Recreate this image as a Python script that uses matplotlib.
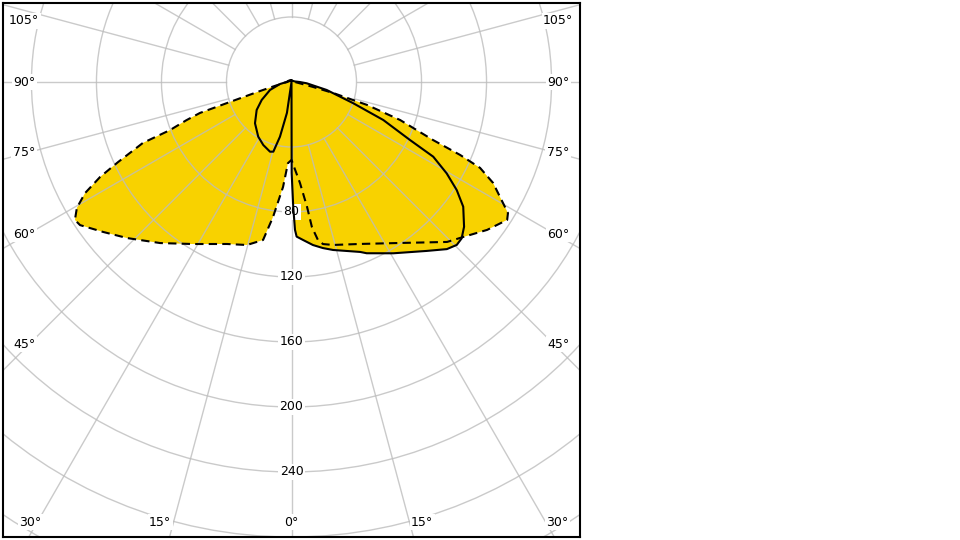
import numpy as np
import matplotlib.pyplot as plt
from matplotlib.patches import Circle

# Luminous intensity (cd) against gamma angle; negative gamma = left half of the plane
# C90 / C270 plane (dashed, filled)
dash_gamma = [-180, -135, -100, -90, -85, -80, -77, -74, -72, -71.3, -70, -68.4, -67.7,
              -65.2, -63.6, -61.7, -59.6, -57.5, -55.9, -51.5, -46.5, -39.2, -31.3, -21.7,
              -15.3, -10.2, -7.8, -4.6, -2.5, 0, 4.8, 7.1, 8.0, 9.5, 11, 14.3, 22.9, 34,
              44.2, 47.9, 52.9, 57.4, 58.8, 60.2, 63.4, 65.5, 66.6, 67.7, 70.7, 73.1, 75.2,
              77, 80, 85, 90, 100, 135, 180]
dash_cd = [1.2, 1.5, 2.5, 2.5, 4, 6, 10, 20, 40, 59.5, 68.9, 80.4, 98.8,
           117.6, 131.5, 144.3, 153.1, 158, 157.1, 148.2, 139.5, 127.9, 116.7, 107.3,
           104, 98.8, 83.9, 64.8, 50, 48, 62.4, 77.5, 90.1, 98.6, 101.6, 103.5, 108.2, 119.5,
           137.3, 142.3, 150.9, 157.5, 155.7, 150, 138.7, 127.5, 113, 94.1, 70.8, 48.6, 26.4,
           13.6, 6, 3, 2, 1.5, 1.2, 1.2]

# C0 / C180 plane (solid)
solid_gamma = [-180, -135, -90, -80, -69.6, -58.9, -51.2, -41.5, -31.3, -24.1, -17.1,
               -14.6, -11.9, -8.4, 0, 0.1, 0.8, 1.35, 1.9, 4.2, 7.5, 10.7, 13.9, 22, 23.7,
               30.7, 38.7, 42.9, 45.4, 47.4, 50, 54, 56.8, 59.5, 62.2, 63.9, 67.5, 71,
               77.2, 85.1, 90, 100, 135, 180]
solid_cd = [1, 1, 3, 7.2, 14.1, 21.4, 27.5, 33.9, 39.4, 42.5, 44.9,
            44.3, 34.4, 19.2, 0, 56, 77, 91, 95.2, 97.5, 101.2, 104, 106.5, 112.8, 115.1,
            122.6, 133.2, 140.4, 142.8, 142.2, 138.6, 130.6, 121.5, 110.8, 98.6, 81.2, 61.1, 40.2,
            22.2, 9.4, 5, 2, 1, 1]

rings = [40, 80, 120, 160, 200, 240, 280, 320]
ring_labels = [80, 120, 160, 200, 240]
spokes = np.arange(0, 360, 15)

side_labels = ["105°", "90°", "75°", "60°", "45°"]
bottom_labels = ["30°", "15°", "0°", "15°", "30°"]

fill_color = "#F8D200"
grid_color = "#bdbdbd"
fsize = 9


def to_xy(gamma, cd):
    g = np.radians(np.asarray(gamma, dtype=float))
    cd = np.asarray(cd, dtype=float)
    return cd * np.sin(g), -cd * np.cos(g)


fig = plt.figure(figsize=(9.6, 5.4), dpi=100)
ax = fig.add_axes([3 / 960, 3 / 540, 577 / 960, 534 / 540])
ax.set_xlim(-177.5, 177.5)
ax.set_ylim(-280, 48.6)
ax.set_xticks([])
ax.set_yticks([])
for s in ax.spines.values():
    s.set_linewidth(1.5)
    s.set_color("black")

# filled areas (union of both planes)
dx, dy = to_xy(dash_gamma, dash_cd)
sx, sy = to_xy(solid_gamma, solid_cd)
ax.fill(dx, dy, color=fill_color, lw=0, zorder=1)
ax.fill(sx, sy, color=fill_color, lw=0, zorder=1)

# polar grid on top of the fill
for r in rings:
    ax.add_patch(Circle((0, 0), r, fill=False, ec=grid_color, lw=1.0, alpha=0.8, zorder=2))
for a in spokes:
    gx, gy = to_xy([a, a], [40, 600])
    ax.plot(gx, gy, color=grid_color, lw=1.0, alpha=0.8, zorder=2)

# outlines
ax.plot(dx, dy, color="black", lw=1.5, linestyle=(0, (4, 2.5)), zorder=4)
ax.plot(sx, sy, color="black", lw=1.5, zorder=4)

# intensity labels along 0 deg
for v in ring_labels:
    ax.text(0, -v, str(v), ha="center", va="center", fontsize=fsize, zorder=3,
            bbox=dict(fc="white", ec="none", pad=1))

# angle labels (pixel positions inside the frame)
side_y = [21, 82, 153, 234, 344]
for lab, py in zip(side_labels, side_y):
    for px in (24, 558):
        fig.text(px / 960, 1 - py / 540, lab, ha="center", va="center", fontsize=fsize,
                 bbox=dict(fc="white", ec="none", pad=1), zorder=5)
bottom_x = [30, 160, 291, 422, 557]
for lab, px in zip(bottom_labels, bottom_x):
    fig.text(px / 960, 1 - 522 / 540, lab, ha="center", va="center", fontsize=fsize,
             bbox=dict(fc="white", ec="none", pad=1), zorder=5)

fig.savefig("out.png", dpi=100)
